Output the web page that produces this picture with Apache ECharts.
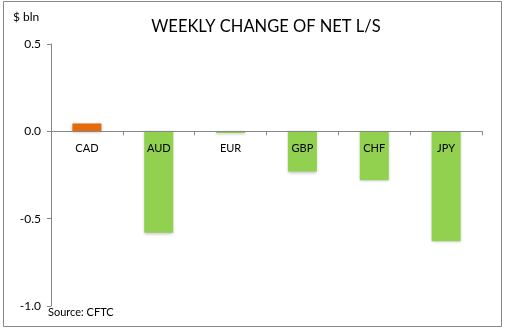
<!DOCTYPE html>
<html>
<head>
<meta charset="utf-8">
<script src="https://cdn.jsdelivr.net/npm/echarts@6/dist/echarts.min.js"></script>
<style>
html,body{margin:0;padding:0;background:#fff;}
#chart{width:505px;height:331px;}
</style>
</head>
<body>
<div id="chart"></div>
<script>
var categories = ['CAD', 'AUD', 'EUR', 'GBP', 'CHF', 'JPY'];
var values = [0.045, -0.58, -0.01, -0.23, -0.28, -0.63];
var yTicks = [-1.0, -0.5, 0.0, 0.5];
var titleText = 'WEEKLY CHANGE OF NET L/S';
var unitText = '$ bln';
var sourceText = 'Source: CFTC';

var FONT = 'Lato, "Open Sans", sans-serif';
var W = 505, H = 331;
var gridTop = 44, gridBottom = 25;
var yMin = yTicks[0], yMax = yTicks[yTicks.length - 1];
var plotH = H - gridTop - gridBottom;
var zeroOffset = -((0 - yMin) / (yMax - yMin)) * plotH;

var chart = echarts.init(document.getElementById('chart'), null, {renderer: 'canvas'});
chart.setOption({
  animation: false,
  backgroundColor: '#ffffff',
  title: {
    text: titleText,
    left: 261, top: 13, textAlign: 'center',
    textStyle: {fontFamily: FONT, fontSize: 16.5, fontWeight: 'normal', color: '#000'}
  },
  graphic: [
    {type: 'rect', shape: {x: 3.5, y: 1.5, width: 498, height: 325}, style: {fill: 'none', stroke: '#888', lineWidth: 1}, z: -1},
    {type: 'text', left: 13, top: 11, style: {text: unitText, font: '12px ' + FONT, fill: '#000'}},
    {type: 'text', left: 48, top: 307, style: {text: sourceText, font: '11px ' + FONT, fill: '#000'}}
  ],
  grid: {left: 51, right: 23, top: gridTop, bottom: gridBottom, containLabel: false},
  xAxis: {
    type: 'category',
    data: categories,
    offset: zeroOffset,
    z: 5,
    axisLine: {onZero: false, lineStyle: {color: '#868686', width: 1}},
    axisTick: {show: true, length: 4, lineStyle: {color: '#868686'}},
    axisLabel: {margin: 12, fontFamily: FONT, fontSize: 11, color: '#000'},
    splitLine: {show: false}
  },
  yAxis: {
    type: 'value',
    min: yMin, max: yMax, interval: 0.5,
    axisLine: {show: true, lineStyle: {color: '#868686', width: 1}},
    axisTick: {show: true, length: 4, lineStyle: {color: '#868686'}},
    axisLabel: {margin: 10, fontFamily: FONT, fontSize: 12, color: '#000',
      formatter: function (v) { return v.toFixed(1); }},
    splitLine: {show: false}
  },
  series: [{
    type: 'bar',
    data: values,
    barWidth: 29,
    itemStyle: {
      color: function (p) { return p.value >= 0 ? '#E46C0A' : '#92D050'; },
      shadowColor: 'rgba(0,0,0,0.25)', shadowBlur: 3, shadowOffsetY: 1
    }
  }]
});
</script>
</body>
</html>
